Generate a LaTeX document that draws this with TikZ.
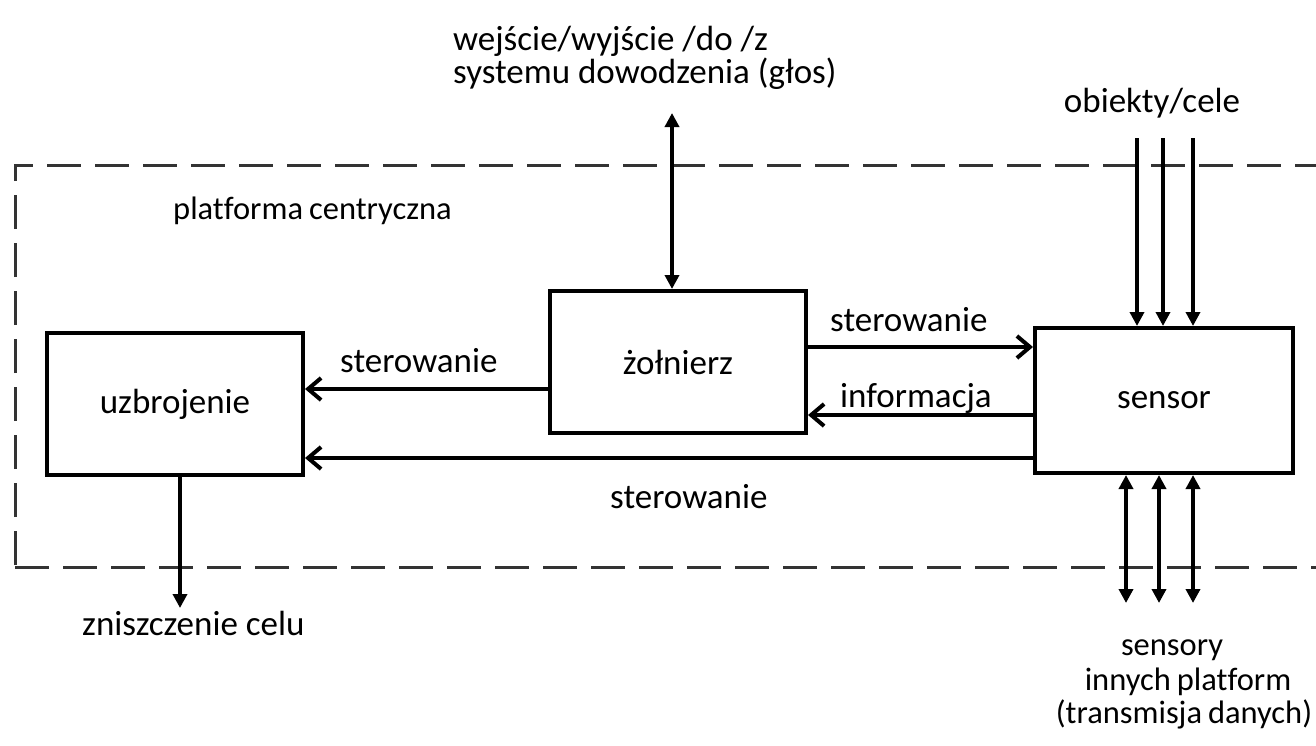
\documentclass[tikz,border=0pt]{standalone}
\usepackage{fontspec}
\setmainfont{Carlito}[Ligatures=NoCommon]
\usetikzlibrary{arrows.meta,calc}
\newcommand{\tightsp}{\hspace{6pt}}
\begin{document}
\begin{tikzpicture}[x=1pt,y=-1pt,
  every node/.style={font=\fontsize{35}{37}\selectfont, inner sep=0pt},
  small/.style={font=\fontsize{32.5}{35}\selectfont},
  block/.style={draw, line width=4pt, minimum width=256pt, minimum height=142pt},
  frame/.style={draw=black!80, line width=3pt, dash pattern=on 34pt off 14pt},
  harrow/.style={draw, line width=4.5pt, -{Straight Barb[length=13pt, width=22pt, line width=4pt]}},
  varrow/.style={draw, line width=4pt, -{Triangle[length=14pt, width=14pt]}},
  vbiarrow/.style={draw, line width=4pt, {Triangle[length=14pt, width=14pt]}-{Triangle[length=14pt, width=14pt]}},
  lbl/.style={anchor=base west}
]
\useasboundingbox (0,0) rectangle (1316,745);

% platform boundary
\draw[frame] (15,565) -- (15,165) -- (1316,165);
\draw[frame] (15,567) -- (1316,567);

% blocks
\node[block] (uz) at (175,404) {uzbrojenie};
\node[block] (zo) at (678,362) {żołnierz};
\node[block, minimum width=258pt, minimum height=145pt] (se) at (1164,400.5) {sensor};

% horizontal control / information flows
\coordinate (r1) at ($(zo.east)+(0,-15)$);
\coordinate (r2) at ($(zo.east)+(0,53)$);
\coordinate (r3) at ($(zo.west)+(0,27)$);
\coordinate (r4) at ($(se.west)+(0,57.5)$);
\draw[harrow] (r1) -- (r1 -| se.west);
\draw[harrow] (r2 -| se.west) -- (r2);
\draw[harrow] (r3) -- (r3 -| uz.east);
\draw[harrow] (r4) -- (r4 -| uz.east);

% command system link
\coordinate (cmd) at (672,113);
\draw[vbiarrow] (cmd) -- (cmd |- zo.north);

% targets entering the sensor
\coordinate (o1) at (1137,138);
\coordinate (o2) at (1163,138);
\coordinate (o3) at (1193,138);
\foreach \c in {o1,o2,o3} \draw[varrow] (\c) -- (\c |- se.north);

% data links to other platforms
\coordinate (b1) at (1126,603);
\coordinate (b2) at (1159,603);
\coordinate (b3) at (1193,603);
\foreach \c in {b1,b2,b3} \draw[vbiarrow] (\c |- se.south) -- (\c);

% weapon effect
\coordinate (kill) at (180,608);
\draw[varrow] (kill |- uz.south) -- (kill);

% labels
\node[lbl] (t1) at (453,50) {wejście/wyjście /do /z};
\node[lbl] (t2) at (453,83) {systemu dowodzenia (głos)};
\node[lbl, small] (pc) at (173,219) {platforma\tightsp centryczna};
\node[anchor=base] (ob) at (1152,112) {obiekty/cele};
\node[lbl] (s1) at (830,331) {sterowanie};
\node[lbl] (inf) at (840,407) {informacja};
\node[lbl] (s2) at (340,372) {sterowanie};
\node[lbl] (s3) at (610,508) {sterowanie};
\node[lbl] (zc) at (82,635) {zniszczenie celu};
\node[anchor=base, small] (sn1) at (1172,655) {sensory};
\node[anchor=base, small] (sn2) at (1188,690) {innych\tightsp platform};
\node[anchor=base, small] (sn3) at (1184,723) {(transmisja\tightsp danych)};
\end{tikzpicture}
\end{document}
